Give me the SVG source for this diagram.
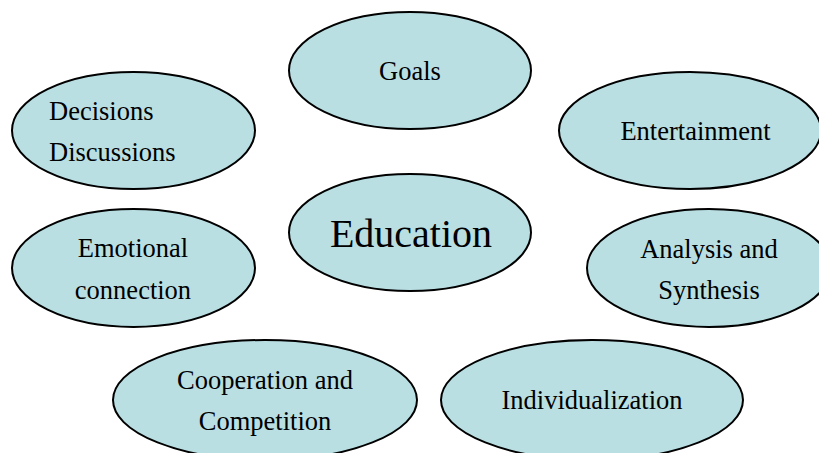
<svg xmlns="http://www.w3.org/2000/svg" width="819" height="453" viewBox="0 0 819 453">
<style>
.n{fill:#b9dfe3;stroke:#000;stroke-width:2}
.t{font-family:"Liberation Serif","Times New Roman",serif;font-size:26.5px;fill:#000;text-anchor:middle}
.l{text-anchor:start}
.big{font-size:40px}
</style>
<rect width="819" height="453" fill="#fff"/>
<g id="connectors"/>
<g id="goals"><ellipse class="n" cx="410" cy="70.5" rx="121" ry="58.5"/><text class="t" x="410" y="80">Goals</text></g>
<g id="decisions"><ellipse class="n" cx="133.5" cy="130.5" rx="121.5" ry="58.5"/><text class="t l" x="49" y="120">Decisions</text><text class="t l" x="49" y="161">Discussions</text></g>
<g id="entertainment"><ellipse class="n" cx="690" cy="130.5" rx="131" ry="58.5"/><text class="t" x="695.5" y="140">Entertainment</text></g>
<g id="education"><ellipse class="n" cx="410" cy="232.5" rx="121" ry="58.5"/><text class="t big" x="411" y="247">Education</text></g>
<g id="emotional"><ellipse class="n" cx="133.5" cy="268" rx="121.5" ry="59"/><text class="t" x="133" y="257">Emotional</text><text class="t" x="133" y="299">connection</text></g>
<g id="analysis"><ellipse class="n" cx="709" cy="268" rx="122" ry="59"/><text class="t" x="709" y="258">Analysis and</text><text class="t" x="709" y="299">Synthesis</text></g>
<g id="cooperation"><ellipse class="n" cx="265" cy="400" rx="152" ry="60"/><text class="t" x="265" y="389">Cooperation and</text><text class="t" x="265" y="430">Competition</text></g>
<g id="individualization"><ellipse class="n" cx="592" cy="400" rx="151" ry="60"/><text class="t" x="592" y="409">Individualization</text></g>
</svg>
